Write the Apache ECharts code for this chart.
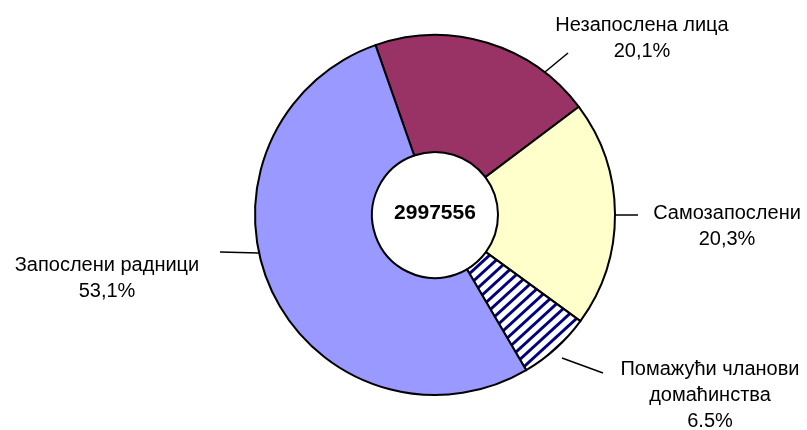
<!DOCTYPE html>
<html>
<head>
<meta charset="utf-8">
<script src="https://cdn.jsdelivr.net/npm/echarts@6/dist/echarts.min.js"></script>
<style>
html,body{margin:0;padding:0;background:#fff;}
#chart{width:807px;height:430px;}
</style>
</head>
<body>
<div id="chart"></div>
<script>
// ---- data ----
const categories = ['Незапослена лица', 'Самозапослени', 'Помажући чланови\nдомаћинства', 'Запослени радници'];
const shares = [20.1, 20.3, 6.5, 53.1];
const shareLabels = ['20,1%', '20,3%', '6.5%', '53,1%'];
const totalLabel = '2997556';

// ---- styles ----
const sliceColors = ['#993366', '#FFFFCC', null, '#9999FF'];
function stripePattern() {
  const c = document.createElement('canvas');
  const W = 12, H = 11;
  c.width = W; c.height = H;
  const g = c.getContext('2d');
  g.fillStyle = '#ffffff';
  g.fillRect(0, 0, W, H);
  g.strokeStyle = '#000080';
  g.lineWidth = 2.9;
  for (let n = 0; n <= 2; n++) {
    g.beginPath();
    g.moveTo((n + 1) * W, -H);
    g.lineTo((n - 2) * W, 2 * H);
    g.stroke();
  }
  return c;
}
const stripeFill = { image: stripePattern(), repeat: 'repeat' };

// label placement (layout only)
const labelPlace = [
  { x: 642, y: 12, line: [[545, 72], [568, 53]] },
  { x: 727, y: 200, line: [[614, 215], [638, 215]] },
  { x: 710, y: 356, line: [[562, 358], [603, 373]] },
  { x: 107, y: 252, line: [[220, 252], [259, 253]] }
];

const chart = echarts.init(document.getElementById('chart'), null, { renderer: 'canvas' });
const font = "'Liberation Sans', Arial, sans-serif";

chart.setOption({
  animation: false,
  backgroundColor: '#ffffff',
  series: [{
    type: 'pie',
    center: [435, 215],
    radius: [63, 180],
    startAngle: 109.3,
    clockwise: true,
    avoidLabelOverlap: false,
    itemStyle: { borderColor: '#000', borderWidth: 2 },
    emphasis: { disabled: true },
    label: {
      show: true,
      position: 'outside',
      color: '#000',
      fontFamily: font,
      fontSize: 20,
      lineHeight: 26,
      align: 'center',
      formatter: function (p) { return categories[p.dataIndex] + '\n' + shareLabels[p.dataIndex]; }
    },
    labelLine: { show: true, lineStyle: { color: '#000', width: 1.5 } },
    labelLayout: function (p) {
      const s = labelPlace[p.dataIndex];
      return { x: s.x, y: s.y, align: 'center', verticalAlign: 'top', labelLinePoints: s.line };
    },
    data: categories.map(function (name, i) {
      return {
        name: name,
        value: shares[i],
        itemStyle: { color: sliceColors[i] || stripeFill }
      };
    })
  }],
  graphic: [{
    type: 'text',
    x: 435,
    y: 213,
    style: {
      text: totalLabel,
      fill: '#000',
      font: "bold 21px 'Liberation Sans', Arial, sans-serif",
      textAlign: 'center',
      textVerticalAlign: 'middle'
    }
  }]
});
</script>
</body>
</html>
